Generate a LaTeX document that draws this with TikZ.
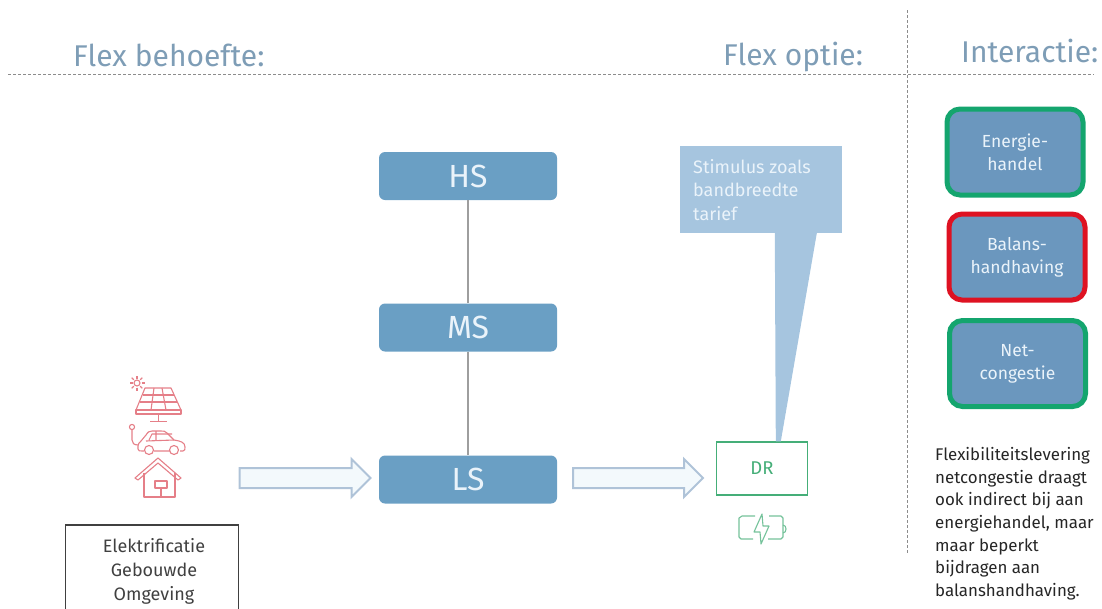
\documentclass[tikz,border=0pt]{standalone}
\usepackage{fontspec}
\setmainfont{Fira Sans}
\usetikzlibrary{shapes.arrows,calc}
\definecolor{busblue}{HTML}{6A9FC4}
\definecolor{intblue}{HTML}{6B97BE}
\definecolor{callblue}{HTML}{A6C5DF}
\definecolor{headblue}{HTML}{7E9DB6}
\definecolor{okgreen}{HTML}{14A56E}
\definecolor{drgreen}{HTML}{45AE78}
\definecolor{alarmred}{HTML}{DE1222}
\definecolor{iconred}{HTML}{E57F88}
\definecolor{paletxt}{HTML}{EAF3FA}
\definecolor{arrowline}{HTML}{AFC3D8}
\definecolor{arrowfill}{HTML}{F3F9FC}
\tikzset{
  busbox/.style={draw=none,fill=busblue,rounded corners=6pt,minimum width=178pt,minimum height=48pt,inner sep=0pt,text=paletxt,font=\fontsize{32}{36}\selectfont},
  intbox/.style={fill=intblue,rounded corners=13pt,line width=5pt,minimum width=136pt,minimum height=86pt,inner sep=0pt,align=center,text=paletxt,font=\fontsize{17.5}{23}\selectfont},
  headtext/.style={text=headblue,inner sep=0pt,anchor=base west,font=\fontsize{30}{34}\selectfont},
  blockarrow/.style={single arrow,draw=arrowline,fill=arrowfill,line width=2pt,minimum width=36pt,single arrow head extend=9pt,inner xsep=0pt,inner ysep=9pt,anchor=tail},
  gridline/.style={draw=black!45,line width=0.9pt,dash pattern=on 3pt off 2pt},
  iconline/.style={draw=iconred,line width=1.1pt,line join=round},
  batline/.style={draw=drgreen!75,line width=1.1pt,line join=round}
}
\begin{document}
\begin{tikzpicture}[x=1pt,y=-1pt]
\useasboundingbox (0,0) rectangle (1102,608);
\clip (0,0) rectangle (1102,608);
% guides
\coordinate (hL) at (8,74); \coordinate (hR) at (1094,74);
\coordinate (vT) at (907,10); \coordinate (vB) at (907,553);
\draw[gridline] (hL) -- (hR);
\draw[gridline] (vT) -- (vB);
% headings
\node[headtext] (h1) at (73,66) {Flex behoefte:};
\node[headtext] (h2) at (723,65) {Flex optie:};
\node[headtext] (h3) at (961,62) {Interactie:};
% busbars
\node[busbox] (HS) at (468,176) {HS};
\node[busbox] (MS) at (468,327.5) {MS};
\node[busbox] (LS) at (468,479.5) {LS};
\draw[draw=black!38,line width=1.4pt] (HS) -- (MS);
\draw[draw=black!38,line width=1.4pt] (MS) -- (LS);
% DR
\node[draw=drgreen,fill=white,line width=1.4pt,minimum width=91pt,minimum height=53pt,inner sep=0pt,text=drgreen,font=\fontsize{18.5}{20}\selectfont] (DR) at (762,468.5) {DR};
% callout
\node[fill=callblue,minimum width=162pt,minimum height=87pt,inner sep=0pt] (call) at (761,189.5) {};
\fill[callblue] ($(call.south west)+(95,0)$) -- ($(call.south west)+(137,0)$) -- ($(DR.north west)+(65,0)$) -- ($(DR.north west)+(60,0)$) -- cycle;
\node[anchor=north west,inner sep=0pt,align=left,text=paletxt,font=\fontsize{18}{23.5}\selectfont] (calltxt) at (693,159) {Stimulus zoals\\bandbreedte\\tarief};
% block arrows
\node[blockarrow,minimum height=131pt] (a1) at (238.5,478) {};
\node[blockarrow,minimum height=130pt] (a2) at (572,478) {};
% interaction boxes
\node[intbox,draw=okgreen] (EH) at (1015,152) {Energie-\\handel};
\node[intbox,draw=alarmred] (BH) at (1017,257) {Balans-\\handhaving};
\node[intbox,draw=okgreen] (NC) at (1017.5,363.5) {Net-\\congestie};
% note
\node[anchor=north west,inner sep=0pt,align=left,text=black!85,font=\fontsize{16.9}{22.7}\selectfont] (note) at (935,447) {Flexibiliteitslevering\\netcongestie draagt\\ook indirect bij aan\\energiehandel, maar\\maar beperkt\\bijdragen aan\\balanshandhaving.};
% source box
\node[draw=black!75,line width=1.5pt,minimum width=173pt,minimum height=110pt,inner sep=0pt] (src) at (152,580) {};
\node[align=center,inner sep=0pt,anchor=north,text=black!75,font=\fontsize{18}{24}\selectfont] (srctxt) at (154,538) {Elektrificatie\\Gebouwde\\Omgeving};
% solar icon
\begin{scope}[iconline]
  \draw (137,383) circle (3);
  \foreach \a in {0,45,...,315} \draw (137,383) ++(\a:4.5) -- ++(\a:3);
  \draw (145,388) -- (171,388) -- (181,410) -- (136,410) -- cycle;
  \draw (136,410) rectangle (181,414);
  \draw (143,395) -- (174,395) (140,402) -- (177,402);
  \draw (154,388) -- (151,410) (162,388) -- (166,410);
  \draw (158.5,414) -- (158.5,421) (150,421.5) -- (167,421.5);
  % car
  \draw (138,446) -- (138,449) .. controls (138,451) and (140,451) .. (142,451) -- (144,451)
        (154,451) -- (170,451) (180,451) -- (183,451) .. controls (185,451) and (185,449) .. (185,447)
        .. controls (185,442) and (180,441) .. (174,440) -- (167,433) .. controls (165,431) and (164,431) .. (161,431)
        -- (152,431) .. controls (149,431) and (148,432) .. (146,435) -- (141,441) .. controls (139,443) and (138,444) .. (138,446);
  \draw (149,440) -- (152,434) -- (172,434) (146,441) -- (174,440) (156,431) -- (156,441);
  \draw (149,450) circle (4.5); \draw (174,450) circle (4.5);
  \draw (132,427) circle (2.6);
  \draw (132,430) -- (132,440) .. controls (132,443) and (134,445) .. (138,445);
  % house
  \draw (135,478) -- (158,458) -- (181,478) -- (178,480) -- (158,463) -- (138,480) -- cycle;
  \draw (144,473) -- (144,497) -- (175,497) -- (175,473);
  \draw (155,481) rectangle (167,488);
  \draw (161,488) -- (161,497);
\end{scope}
% battery icon
\begin{scope}[batline]
  \draw (755,516) -- (742,516) -- (739,518) -- (739,537) -- (741,539) -- (753,539);
  \draw (769,516) -- (781,516) -- (783,518) -- (783,537) -- (781,539) -- (768,539);
  \draw (783,525) .. controls (787,525) and (787,533) .. (783,533);
  \draw (762,514) -- (754,532) -- (760,532) -- (761,544) -- (769,526) -- (763,526) -- cycle;
\end{scope}
\end{tikzpicture}
\end{document}
